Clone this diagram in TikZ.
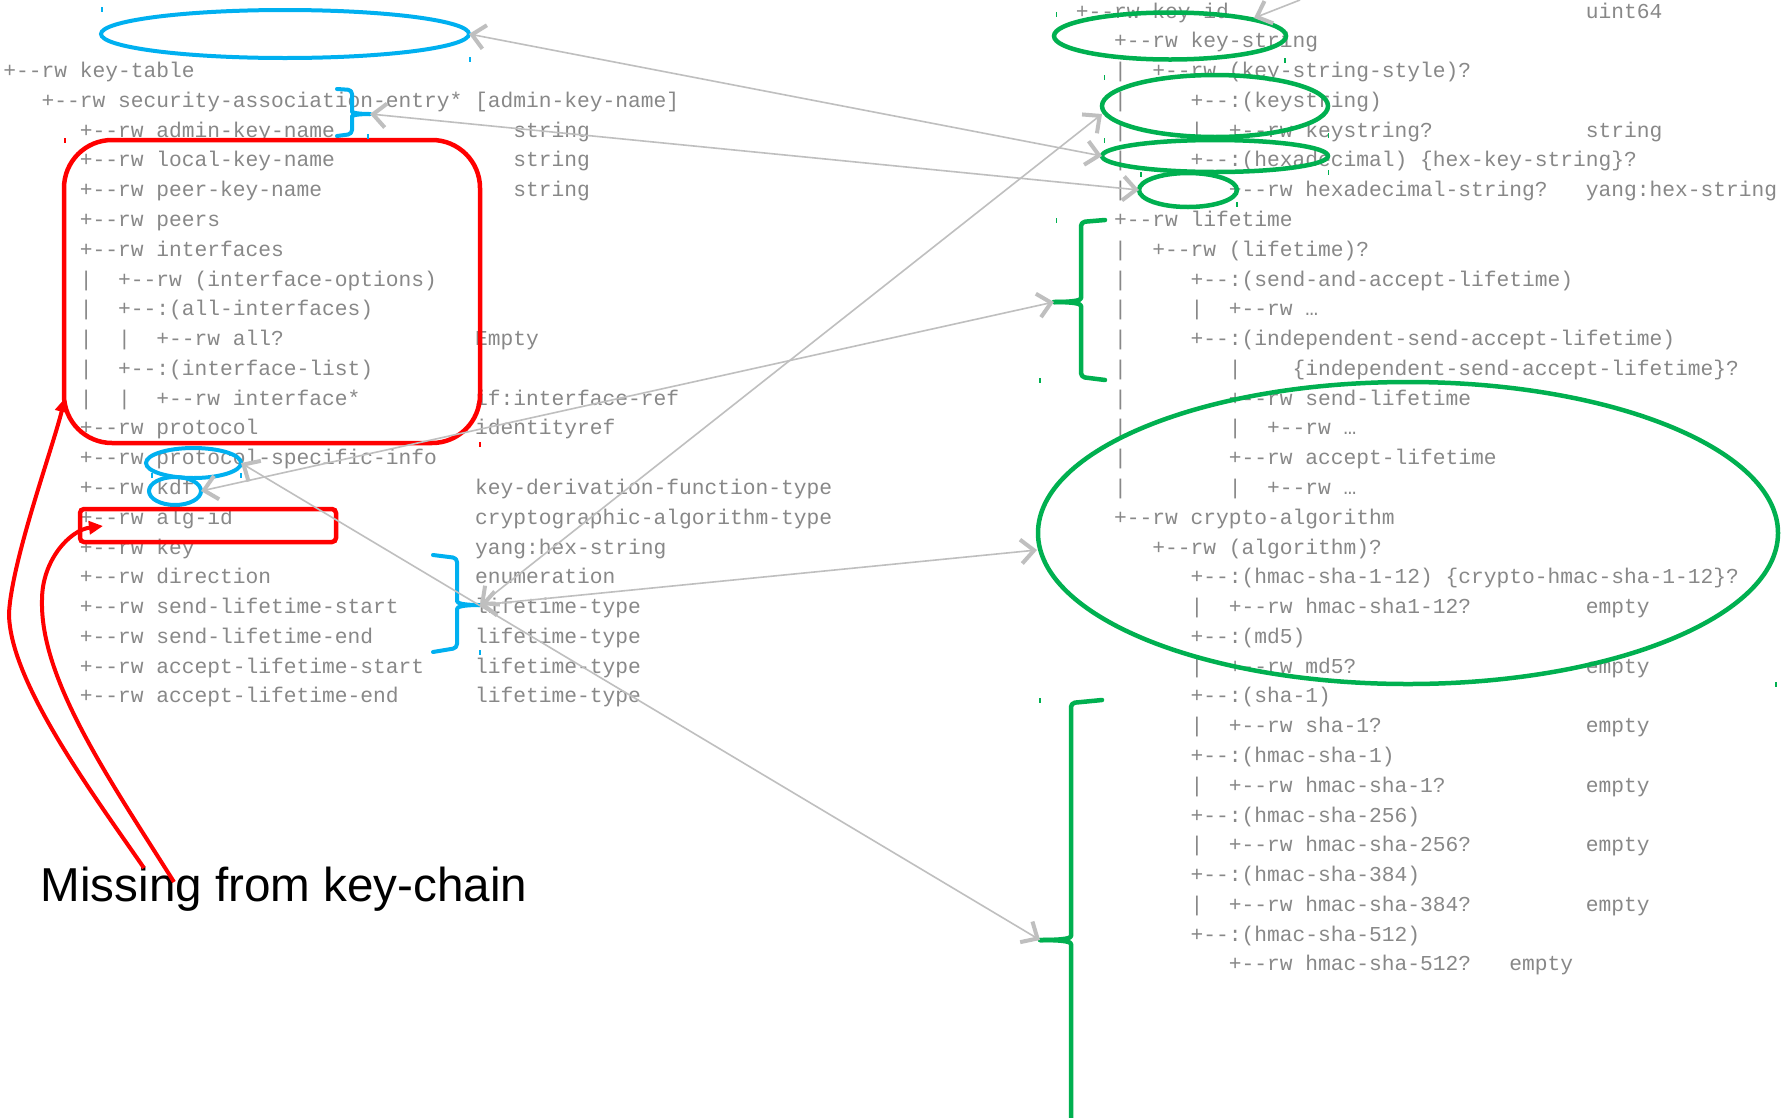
\documentclass[tikz,border=0pt]{standalone}
\usepackage{fontspec}
\setmainfont{Liberation Sans}
\setmonofont{Liberation Mono}
\usetikzlibrary{arrows.meta,shapes.geometric}
\definecolor{tgray}{HTML}{888888}
\definecolor{agray}{HTML}{BFBFBF}
\definecolor{cblue}{HTML}{00B0F0}
\definecolor{cgreen}{HTML}{00B050}
\definecolor{cred}{HTML}{FF0000}
\frenchspacing
\newcommand\Lrow[3]{\node[txt] (l#1c#2) at ({3.4+12.75*#2},{18+29.78*#1}) {#3};}
\newcommand\Rrow[3]{\node[txt] (r#1c#2) at ({1075.8+12.75*#2},{18+29.78*#1}) {#3};}
\begin{document}
\begin{tikzpicture}[x=1pt,y=-1pt,
  txt/.style={anchor=base west, inner sep=0pt, outer sep=0pt, font=\ttfamily\fontsize{21.25}{25}\selectfont, text=tgray},
  bl/.style={draw=cblue, line width=4pt},
  gr/.style={draw=cgreen, line width=4.5pt},
  rd/.style={draw=cred, line width=4.5pt},
  brk/.style={line join=round, line cap=round, rounded corners=4pt},
  ell/.style={ellipse, inner sep=0pt, outer sep=0pt},
  barb/.tip={Straight Barb[length=13pt,width=24pt,line width=4pt]},
  garrow/.style={draw=agray, line width=1.6pt, barb-barb},
  garrow1/.style={draw=agray, line width=1.6pt, -barb},
  rarrow/.style={draw=cred, line width=4pt, -{Triangle[length=14pt,width=13pt]}},
  tick/.style={line width=1.2pt}
]
\useasboundingbox (0,0) rectangle (1785,1117);
\fill[white] (0,0) rectangle (1785,1117);

% ---------- left tree ----------
\Lrow{2}{0}{+-{}-rw~key-table}
\Lrow{3}{3}{+-{}-rw~security-association-entry*~[admin-key-name]}
\Lrow{4}{6}{+-{}-rw~admin-key-name}
\Lrow{4}{40}{string}
\Lrow{5}{6}{+-{}-rw~local-key-name}
\Lrow{5}{40}{string}
\Lrow{6}{6}{+-{}-rw~peer-key-name}
\Lrow{6}{40}{string}
\Lrow{7}{6}{+-{}-rw~peers}
\Lrow{8}{6}{+-{}-rw~interfaces}
\Lrow{9}{6}{|~~+-{}-rw~(interface-options)}
\Lrow{10}{6}{|~~+-{}-:(all-interfaces)}
\Lrow{11}{6}{|~~|~~+-{}-rw~all?}
\Lrow{11}{37}{Empty}
\Lrow{12}{6}{|~~+-{}-:(interface-list)}
\Lrow{13}{6}{|~~|~~+-{}-rw~interface*}
\Lrow{13}{37}{if:interface-ref}
\Lrow{14}{6}{+-{}-rw~protocol}
\Lrow{14}{37}{identityref}
\Lrow{15}{6}{+-{}-rw~protocol-specific-info}
\Lrow{16}{6}{+-{}-rw~kdf}
\Lrow{16}{37}{key-derivation-function-type}
\Lrow{17}{6}{+-{}-rw~alg-id}
\Lrow{17}{37}{cryptographic-algorithm-type}
\Lrow{18}{6}{+-{}-rw~key}
\Lrow{18}{37}{yang:hex-string}
\Lrow{19}{6}{+-{}-rw~direction}
\Lrow{19}{37}{enumeration}
\Lrow{20}{6}{+-{}-rw~send-lifetime-start}
\Lrow{20}{37}{lifetime-type}
\Lrow{21}{6}{+-{}-rw~send-lifetime-end}
\Lrow{21}{37}{lifetime-type}
\Lrow{22}{6}{+-{}-rw~accept-lifetime-start}
\Lrow{22}{37}{lifetime-type}
\Lrow{23}{6}{+-{}-rw~accept-lifetime-end}
\Lrow{23}{37}{lifetime-type}

% ---------- right tree ----------
\Rrow{0}{0}{+-{}-rw~key-id}
\Rrow{0}{40}{uint64}
\Rrow{1}{3}{+-{}-rw~key-string}
\Rrow{2}{3}{|~~+-{}-rw~(key-string-style)?}
\Rrow{3}{3}{|~~~~~+-{}-:(keystring)}
\Rrow{4}{3}{|~~~~~|~~+-{}-rw~keystring?}
\Rrow{4}{40}{string}
\Rrow{5}{3}{|~~~~~+-{}-:(hexadecimal)~\{hex-key-string\}?}
\Rrow{6}{3}{|~~~~~~~~+-{}-rw~hexadecimal-string?}
\Rrow{6}{40}{yang:hex-string}
\Rrow{7}{3}{+-{}-rw~lifetime}
\Rrow{8}{3}{|~~+-{}-rw~(lifetime)?}
\Rrow{9}{3}{|~~~~~+-{}-:(send-and-accept-lifetime)}
\Rrow{10}{3}{|~~~~~|~~+-{}-rw~…}
\Rrow{11}{3}{|~~~~~+-{}-:(independent-send-accept-lifetime)}
\Rrow{12}{3}{|~~~~~~~~|~~~~\{independent-send-accept-lifetime\}?}
\Rrow{13}{3}{|~~~~~~~~+-{}-rw~send-lifetime}
\Rrow{14}{3}{|~~~~~~~~|~~+-{}-rw~…}
\Rrow{15}{3}{|~~~~~~~~+-{}-rw~accept-lifetime}
\Rrow{16}{3}{|~~~~~~~~|~~+-{}-rw~…}
\Rrow{17}{3}{+-{}-rw~crypto-algorithm}
\Rrow{18}{6}{+-{}-rw~(algorithm)?}
\Rrow{19}{9}{+-{}-:(hmac-sha-1-12)~\{crypto-hmac-sha-1-12\}?}
\Rrow{20}{9}{|~~+-{}-rw~hmac-sha1-12?}
\Rrow{20}{40}{empty}
\Rrow{21}{9}{+-{}-:(md5)}
\Rrow{22}{9}{|~~+-{}-rw~md5?}
\Rrow{22}{40}{empty}
\Rrow{23}{9}{+-{}-:(sha-1)}
\Rrow{24}{9}{|~~+-{}-rw~sha-1?}
\Rrow{24}{40}{empty}
\Rrow{25}{9}{+-{}-:(hmac-sha-1)}
\Rrow{26}{9}{|~~+-{}-rw~hmac-sha-1?}
\Rrow{26}{40}{empty}
\Rrow{27}{9}{+-{}-:(hmac-sha-256)}
\Rrow{28}{9}{|~~+-{}-rw~hmac-sha-256?}
\Rrow{28}{40}{empty}
\Rrow{29}{9}{+-{}-:(hmac-sha-384)}
\Rrow{30}{9}{|~~+-{}-rw~hmac-sha-384?}
\Rrow{30}{40}{empty}
\Rrow{31}{9}{+-{}-:(hmac-sha-512)}
\Rrow{32}{12}{+-{}-rw~hmac-sha-512?~~~empty}

% ---------- label ----------
\node[anchor=base west, inner sep=0pt, font=\fontsize{47.6}{55}\selectfont, text=black] (miss) at (40.5,901.7) {Missing from key-chain};

% ---------- blue marks ----------
\node[ell, bl, minimum width=368pt, minimum height=48pt] (be1) at (285,34) {};
\node[ell, bl, minimum width=95pt, minimum height=30pt] (be2) at (193.5,463) {};
\node[ell, bl, minimum width=52pt, minimum height=28pt] (be3) at (175,491) {};
\coordinate (bb1tip) at (370,114);
\draw[bl, brk] (337,89) -- (352,90) -- (352,108) .. controls (352,112) and (355,114) .. (bb1tip);
\draw[bl, brk] (bb1tip) .. controls (355,114) and (352,116) .. (352,120) -- (352,134) -- (337,136);
\coordinate (bb2tip) at (480,605);
\draw[bl, brk] (433,555) -- (457,558) -- (457,597) .. controls (457,603) and (462,605) .. (bb2tip);
\draw[bl, brk] (bb2tip) .. controls (462,605) and (457,607) .. (457,613) -- (457,648) -- (433,652);

% ---------- green marks ----------
\node[ell, gr, minimum width=232pt, minimum height=47pt] (ge1) at (1170,36) {};
\node[ell, gr, minimum width=226pt, minimum height=62pt] (ge2) at (1215,106) {};
\node[ell, gr, minimum width=226pt, minimum height=32pt] (ge3) at (1215,156) {};
\node[ell, gr, minimum width=98pt, minimum height=34pt] (ge4) at (1188,190) {};
\node[ell, gr, minimum width=740pt, minimum height=302pt] (ge5) at (1408,533) {};
\coordinate (gb1tip) at (1054,302);
\draw[gr, brk] (1105,220) -- (1081,222) -- (1081,294) .. controls (1081,300) and (1076,302) .. (gb1tip);
\draw[gr, brk] (gb1tip) .. controls (1076,302) and (1081,304) .. (1081,310) -- (1081,377) -- (1105,380);
\coordinate (gb2tip) at (1040,940);
\draw[gr, brk] (1102,700) -- (1071,703) -- (1071,932) .. controls (1071,938) and (1066,940) .. (gb2tip);
\draw[gr, brk] (gb2tip) .. controls (1066,940) and (1071,942) .. (1071,948) -- (1071,1122);

% ---------- red marks ----------
\node[rd, rounded corners=48pt, minimum width=416pt, minimum height=303pt, inner sep=0pt, outer sep=0pt] (rbox) at (272,291.5) {};
\node[rd, rounded corners=4pt, minimum width=256pt, minimum height=33pt, inner sep=0pt, outer sep=0pt] (rbox2) at (208,525.5) {};
\coordinate (m1) at (144,868);
\coordinate (m2) at (174,882);
\coordinate (rt1) at (65,398);
\coordinate (rt2) at (103,526);
\draw[rarrow] (m1) .. controls (90,790) and (9,680) .. (9,613) .. controls (12,560) and (52,450) .. (rt1);
\draw[rarrow] (m2) .. controls (110,780) and (40,680) .. (42,600) .. controls (42,560) and (70,530) .. (rt2);

% ---------- grey connectors ----------
\coordinate (k0) at (1300,0);
\coordinate (k1) at (1254,18);
\coordinate (t2) at (1102,114);
\coordinate (t5) at (1037,550);
\draw[garrow1] (k0) -- (k1);
\draw[garrow] (be1.east) -- (ge3.west);
\draw[garrow] (bb1tip) -- (ge4.west);
\draw[garrow] (bb2tip) -- (t2);
\draw[garrow] (bb2tip) -- (t5);
\draw[garrow] (be2.east) -- (gb2tip);
\draw[garrow] (be3.east) -- (gb1tip);

% ---------- small handle ticks ----------
\foreach \x/\y in {102/7, 470/57, 368/134, 152/473, 241/473, 480/650}
  \draw[tick, cblue] (\x,\y) -- ++(0,5);
\foreach \x/\y in {65/138, 480/442}
  \draw[tick, cred] (\x,\y) -- ++(0,5);
\foreach \x/\y in {1056.5/12, 1104.6/75, 1104.6/138, 1285/58, 1328.5/133, 1141/172, 1328.5/170, 1237/202, 1056.5/218, 1040/378, 1040/698, 1776/682}
  \draw[tick, cgreen] (\x,\y) -- ++(0,5);
\end{tikzpicture}
\end{document}
